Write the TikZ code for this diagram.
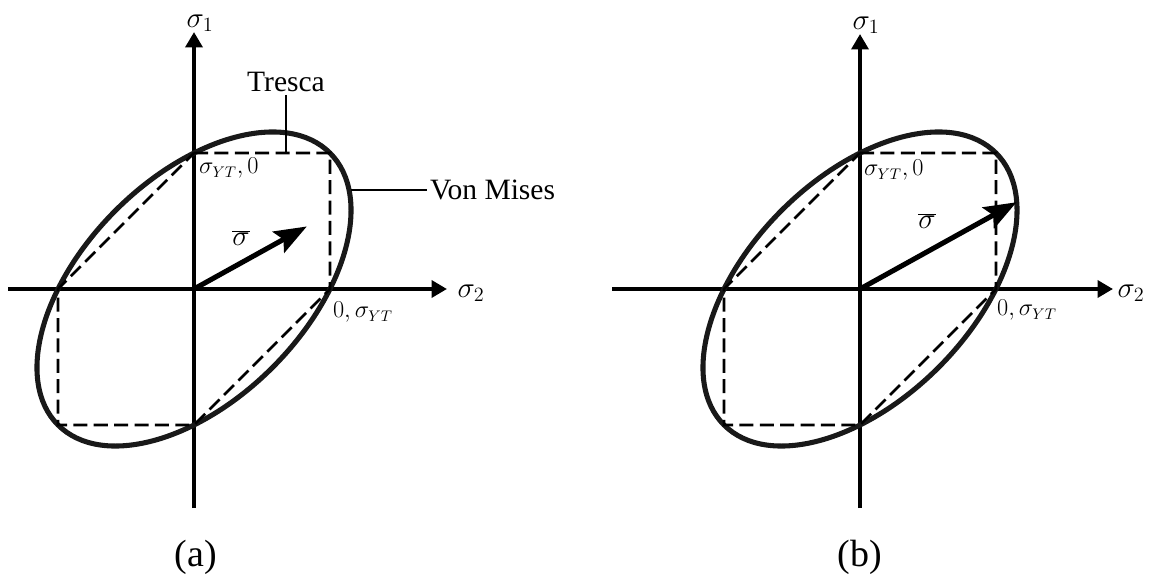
\documentclass[tikz,border=0pt]{standalone}
\usepackage{fontspec}
\setmainfont{Liberation Serif}
\usetikzlibrary{arrows.meta}
\tikzset{
  axis/.style={line width=2.8pt,-{Triangle[length=11pt,width=12pt]}},
  vm/.style={line width=3.6pt,draw=black!90},
  tresca/.style={line width=1.9pt,dash pattern=on 10pt off 4.5pt},
  vec/.style={line width=3.6pt,-{Stealth[length=23pt,width=17pt,inset=4pt]}},
  lead/.style={line width=1.4pt},
  axlbl/.style={font=\fontsize{22}{25}\selectfont,inner sep=2pt},
  ptlbl/.style={font=\fontsize{16}{18}\selectfont,inner sep=2pt,anchor=north west},
  txt/.style={font=\fontsize{21}{24}\selectfont,inner sep=2pt},
  caplbl/.style={font=\fontsize{27}{30}\selectfont,inner sep=1pt},
}

\begin{document}
\begin{tikzpicture}[x=0.025cm,y=0.025cm]
  \useasboundingbox (0,0) rectangle (1149,574);

  % (a) stress vector inside the yield surface
  \begin{scope}[shift={(194,285)}]
    \draw[axis] (-186,0) -- (253,0);
    \draw[axis] (0,-219) -- (0,257);
    \node[axlbl] (s2a) at (277,-4) {$\sigma_2$};
    \node[axlbl] (s1a) at (6,266) {$\sigma_1$};
    \draw[vm,rotate=45] (0,0) ellipse [x radius=192.3,y radius=111];
    \draw[tresca] (0,136) -- (136,136) -- (136,0) -- (0,-136) -- (-136,-136) -- (-136,0) -- cycle;
    \node[ptlbl] (ya) at (2,134) {$\sigma_{YT},0$};
    \node[ptlbl] (xa) at (136,-10) {$0,\sigma_{YT}$};
    \coordinate (oa) at (0,0);
    \coordinate (ta) at (29:129);
    \draw[vec] (oa) -- (ta);
    \node[axlbl] (sba) at (47,51) {$\overline{\sigma}$};
    \node[txt] (tr) at (92,207) {Tresca};
    \coordinate (trp) at (92,136);
    \draw[lead] (tr.south) -- (trp);
    \node[txt,anchor=west] (vmt) at (233,99) {Von Mises};
    \coordinate (vmp) at (157,99);
    \draw[lead] (vmp) -- (vmt.west);
    \node[caplbl] (capa) at (2,-268) {(a)};
  \end{scope}

  % (b) stress vector on the yield surface
  \begin{scope}[shift={(860,285)}]
    \draw[axis] (-248,0) -- (253,0);
    \draw[axis] (0,-219) -- (0,255);
    \node[axlbl] (s2b) at (271,-4) {$\sigma_2$};
    \node[axlbl] (s1b) at (6,264) {$\sigma_1$};
    \draw[vm,rotate=45] (0,0) ellipse [x radius=192.3,y radius=111];
    \draw[tresca] (0,136) -- (136,136) -- (136,0) -- (0,-136) -- (-136,-136) -- (-136,0) -- cycle;
    \node[ptlbl] (yb) at (1,132) {$\sigma_{YT},0$};
    \node[ptlbl] (xb) at (134,-8) {$0,\sigma_{YT}$};
    \coordinate (ob) at (0,0);
    \coordinate (tb) at (29:179);
    \draw[vec] (ob) -- (tb);
    \node[axlbl] (sbb) at (67,68) {$\overline{\sigma}$};
    \node[caplbl] (capb) at (0,-268) {(b)};
  \end{scope}
\end{tikzpicture}
\end{document}
